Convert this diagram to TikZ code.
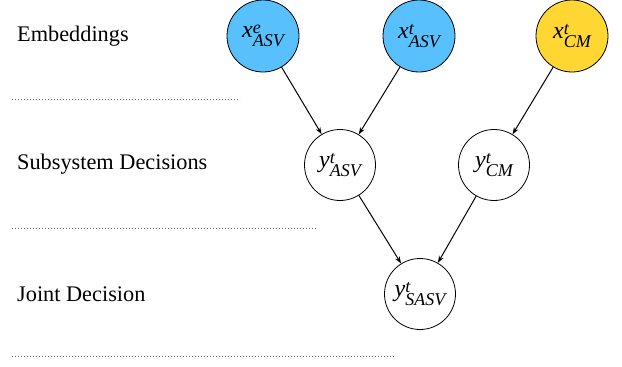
\documentclass[tikz,border=0pt]{standalone}
\usepackage{fontspec}
\setmainfont{Liberation Serif}
\usetikzlibrary{arrows.meta}
\definecolor{nodeblue}{RGB}{88,192,252}
\definecolor{nodeyellow}{RGB}{255,214,50}
\newcommand{\scriptfnt}{\fontsize{18}{18}\selectfont\itshape}
\newcommand{\sv}[3]{{\fontsize{24}{26}\selectfont\itshape #1}\kern0.3pt\rlap{\raisebox{4.5pt}{\scriptfnt #2}}\raisebox{-9pt}{\scriptfnt #3}}
\tikzset{
  varnode/.style={circle, draw=black, line width=0.8pt, minimum size=72pt, inner sep=0pt},
  decnode/.style={varnode, minimum size=71pt, fill=white},
  rowlabel/.style={anchor=west, inner sep=0pt, font=\fontsize{22.3}{26}\selectfont},
  sepline/.style={line width=0.8pt, gray!80!black, dash pattern=on 0.9pt off 2.1pt},
  conn/.style={line width=1pt, -{Stealth[length=7pt,width=5pt]}}
}
\begin{document}
\begin{tikzpicture}[x=1pt,y=-1pt]
\useasboundingbox (0,0) rectangle (622,367);
\node[rowlabel] (l1) at (17,36) {Embeddings};
\node[rowlabel] (l2) at (17,164) {Subsystem Decisions};
\node[rowlabel] (l3) at (17,294) {Joint Decision};
\coordinate (s1a) at (12,99); \coordinate (s1b) at (240,99);
\coordinate (s2a) at (12,228); \coordinate (s2b) at (318,228);
\coordinate (s3a) at (12,356); \coordinate (s3b) at (395,356);
\draw[sepline] (s1a) -- (s1b);
\draw[sepline] (s2a) -- (s2b);
\draw[sepline] (s3a) -- (s3b);
\node[varnode, fill=nodeblue] (xe) at (263,36) {\sv{x}{e}{ASV}};
\node[varnode, fill=nodeblue] (xt) at (419,36) {\sv{x}{t}{ASV}};
\node[varnode, fill=nodeyellow] (xc) at (572,36) {\sv{x}{t}{CM}};
\node[decnode] (ya) at (340,165) {\sv{y}{t}{ASV}};
\node[decnode] (yc) at (494,165) {\sv{y}{t}{CM}};
\node[decnode] (ys) at (420,294) {\sv{y}{t}{SASV}};
\draw[conn] (xe) -- (ya);
\draw[conn] (xt) -- (ya);
\draw[conn] (xc) -- (yc);
\draw[conn] (ya) -- (ys);
\draw[conn] (yc) -- (ys);
\end{tikzpicture}
\end{document}
